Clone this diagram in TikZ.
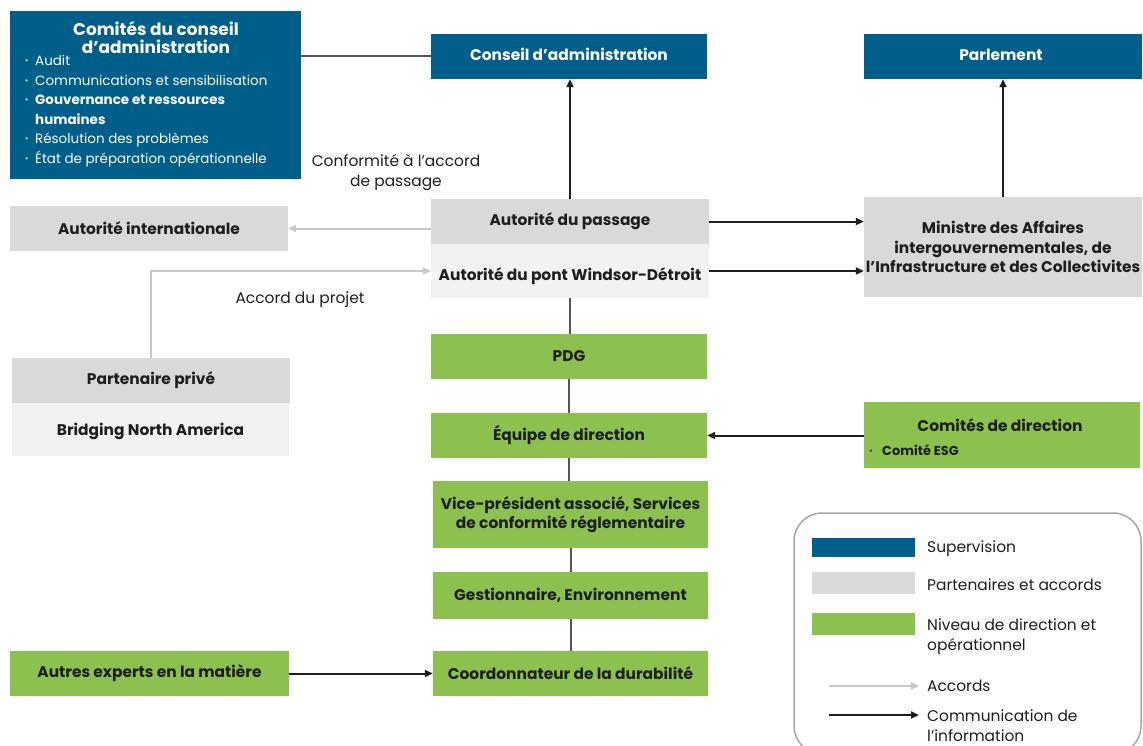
\documentclass[tikz,border=0pt]{standalone}
\usepackage{fontspec}
\setmainfont{Poppins}
\usetikzlibrary{arrows.meta}
\definecolor{cblue}{HTML}{005E8A}
\definecolor{cgreen}{HTML}{8CC150}
\definecolor{cgray}{HTML}{D9D9D9}
\definecolor{clgray}{HTML}{F2F2F2}
\definecolor{carrow}{HTML}{C8C8C8}
\definecolor{cdark}{HTML}{1E1E1E}
\definecolor{cline}{HTML}{555555}
\definecolor{cborder}{HTML}{A6A6A6}
\newcommand{\bul}{\makebox[10bp][l]{\fontsize{8}{8}\selectfont\raisebox{1.8bp}{•}}}
\begin{document}
\begin{tikzpicture}[x=1bp,y=-1bp,
  box/.style={rectangle, inner sep=0bp, align=center, font=\fontsize{15.5}{19.5}\selectfont\bfseries, text=cdark},
  bbox/.style={box, fill=cblue, text=white},
  gbox/.style={box, fill=cgray},
  lbox/.style={box, fill=clgray},
  grbox/.style={box, fill=cgreen},
  comm/.style={draw=cdark, line width=2bp, -{Triangle[length=8bp,width=7bp]}},
  agree/.style={draw=carrow, line width=2bp, -{Triangle[length=8bp,width=7bp]}},
  plain/.style={draw=cline, line width=2bp},
  lbl/.style={font=\fontsize{15.5}{20}\selectfont, text=cdark, align=center, inner sep=0},
  swatch/.style={rectangle, inner sep=0, minimum width=103bp},
  legtext/.style={font=\fontsize{15.5}{19.5}\selectfont, text=cdark, anchor=west, align=left, inner sep=0},
  boxtext/.style={font=\fontsize{15.5}{19.5}\selectfont\bfseries, inner sep=0, align=center}
]
\useasboundingbox (0,0) rectangle (1143,746);
\fill[white] (0,0) rectangle (1143,746);

% top-left committees box
\node[bbox, minimum width=291bp, minimum height=168bp] (comc) at (155.5,95) {};
\node[font=\fontsize{17}{18.5}\selectfont\bfseries, text=white, align=center, inner sep=0] (comct) at (156,37.5) {Comités du conseil\\d’administration};
\node[anchor=west, align=left, font=\fontsize{13.5}{19.6}\selectfont, text=white, inner sep=0] (comcl) at (25,111)
 {\bul Audit\\
  \bul Communications et sensibilisation\\
  \bul\textbf{Gouvernance et ressources}\\
  \hspace*{10bp}\textbf{humaines}\\
  \bul Résolution des problèmes\\
  \bul État de préparation opérationnelle};

\node[bbox, minimum width=276bp, minimum height=45bp] (conseil) at (569,56.5) {};
\node[boxtext, text=white] (conseilt) at (569,54) {Conseil d’administration};
\node[bbox, minimum width=278bp, minimum height=45bp] (parl) at (1003,56.5) {};
\node[boxtext, text=white] (parlt) at (1001,54.5) {Parlement};

\node[gbox, minimum width=278bp, minimum height=45bp] (autint) at (149,228.5) {Autorité internationale};
\node[gbox, minimum width=278bp, minimum height=45bp] (passage) at (570,221.5) {Autorité du passage};
\node[lbox, minimum width=278bp, minimum height=54bp] (pont) at (570,271) {};
\node[boxtext, text=cdark] (pontt) at (570,276) {Autorité du pont Windsor-Détroit};
\node[gbox, minimum width=278bp, minimum height=100bp] (ministre) at (1003,247) {Ministre des Affaires\\intergouvernementales, de\\l’Infrastructure et des Collectivites};

\node[grbox, minimum width=276bp, minimum height=45bp] (pdg) at (569,356.5) {PDG};
\node[grbox, minimum width=276bp, minimum height=45bp] (equipe) at (569,435.5) {Équipe de direction};
\node[grbox, minimum width=276bp, minimum height=66bp] (comdir) at (1002,435) {};
\node[font=\fontsize{15.5}{17}\selectfont\bfseries, text=cdark, inner sep=0] (comdirt) at (1000,425) {Comités de direction};
\node[font=\fontsize{13}{14}\selectfont\bfseries, text=cdark, anchor=west, inner sep=0] (comdirl) at (869,450) {\makebox[13bp][l]{\fontsize{7}{7}\selectfont\raisebox{1.5bp}{•}}Comité ESG};
\node[grbox, minimum width=275bp, minimum height=67bp] (vp) at (570.5,514.5) {Vice-président associé, Services\\de conformité réglementaire};
\node[grbox, minimum width=275bp, minimum height=47bp] (gest) at (570.5,595.5) {Gestionnaire, Environnement};
\node[grbox, minimum width=275bp, minimum height=45bp] (coord) at (570.5,673.5) {Coordonnateur de la durabilité};
\node[grbox, minimum width=279bp, minimum height=45bp] (autres) at (149.5,673.5) {Autres experts en la matière};

\node[gbox, minimum width=278bp, minimum height=45bp] (partpriv) at (151,380.5) {Partenaire privé};
\node[lbox, minimum width=277bp, minimum height=53bp] (bna) at (150.5,429.5) {};
\node[boxtext, text=cdark] (bnat) at (150.5,431) {Bridging North America};

% labels
\node[lbl] (lconf) at (396,173) {Conformité à l’accord\\de passage};
\node[lbl] (lproj) at (300,300) {Accord du projet};

% connectors
\draw[plain] (conseil.west) -- (conseil.west -| comc.east);
\draw[comm] (passage.north) -- (passage.north |- conseil.south);
\draw[comm] (ministre.north) -- (ministre.north |- parl.south);
\draw[agree] (passage.west |- autint.east) -- (autint.east);
\draw[agree] (partpriv.north) |- (pont.west);
\draw[comm] (passage.east) -- (passage.east -| ministre.west);
\draw[comm] (pont.east) -- (pont.east -| ministre.west);
\draw[plain] (pont.south) -- (pont.south |- pdg.north);
\draw[plain] (pdg.south) -- (pdg.south |- equipe.north);
\draw[comm] (comdir.west |- equipe.east) -- (equipe.east);
\draw[plain] (equipe.south) -- (equipe.south |- vp.north);
\draw[plain] (vp.south) -- (gest.north);
\draw[plain] (gest.south) -- (coord.north);
\draw[comm] (autres.east) -- (coord.west);

% legend
\draw[draw=cborder, line width=1.5bp, rounded corners=28bp] (794,513) rectangle (1141,754);
\node[swatch, fill=cblue, minimum height=19bp] (lg1) at (863.5,547.5) {};
\node[swatch, fill=cgray, minimum height=22bp] (lg2) at (863.5,583) {};
\node[swatch, fill=cgreen, minimum height=22bp] (lg3) at (863.5,624) {};
\node[legtext] (lt1) at (927,549) {Supervision};
\node[legtext] (lt2) at (927,585) {Partenaires et accords};
\node[legtext] (lt3) at (927,636.5) {Niveau de direction et\\opérationnel};
\coordinate (la1) at (829,686);
\coordinate (la2) at (919,686);
\coordinate (lb1) at (829,715);
\coordinate (lb2) at (919,715);
\draw[agree] (la1) -- (la2);
\draw[comm] (lb1) -- (lb2);
\node[legtext] (lt4) at (927,686) {Accords};
\node[legtext] (lt5) at (927,725.5) {Communication de\\l’information};
\end{tikzpicture}
\end{document}
